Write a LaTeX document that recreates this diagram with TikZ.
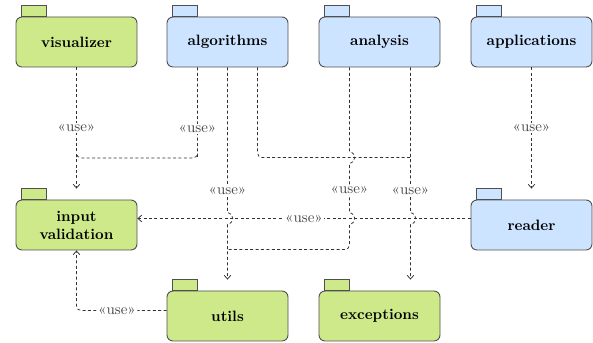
\documentclass[tikz,border=0pt]{standalone}
\usepackage{fontspec}
\usetikzlibrary{arrows.meta,calc}
\definecolor{pkggreen}{RGB}{205,233,138}
\definecolor{pkgblue}{RGB}{204,228,255}
\definecolor{pkgborder}{RGB}{80,80,80}
\definecolor{linecol}{RGB}{50,50,50}
\tikzset{
  pkg/.style={draw=pkgborder, line width=0.6pt, rounded corners=4pt, minimum width=80.67pt, minimum height=33.33pt, font=\bfseries, align=center, inner sep=2pt},
  pkgtab/.style={draw=pkgborder, line width=0.6pt},
  dep/.style={draw=linecol, line width=0.5pt, dash pattern=on 2pt off 1.6pt, -{Straight Barb[length=2.5pt,width=4.5pt]}},
  depnt/.style={draw=linecol, line width=0.5pt, dash pattern=on 2pt off 1.6pt},
  lbl/.style={fill=white, text=black!72, inner sep=1pt, font=\normalsize},
}
\begin{document}
\begin{tikzpicture}[x=0.6667pt, y=-0.6667pt]
\useasboundingbox (0,0) rectangle (593,343);
% packages
\node[pkg, fill=pkggreen] (viz) at (76.5,42) {visualizer};
\node[pkg, fill=pkgblue] (alg) at (227.5,42) {algorithms};
\node[pkg, fill=pkgblue] (ana) at (379.5,42) {analysis};
\node[pkg, fill=pkgblue] (app) at (531.5,42) {applications};
\node[pkg, fill=pkggreen] (iv) at (76.5,225) {input\\validation};
\node[pkg, fill=pkgblue] (rdr) at (531.5,225) {reader};
\node[pkg, fill=pkggreen] (utils) at (227.5,316) {utils};
\node[pkg, fill=pkggreen] (exc) at (379.5,316) {exceptions};
% tabs
\foreach \n/\c in {viz/pkggreen, alg/pkgblue, ana/pkgblue, app/pkgblue, iv/pkggreen, rdr/pkgblue, utils/pkggreen, exc/pkggreen}
  \draw[pkgtab, fill=\c] ($(\n.north west)+(6,0)$) rectangle ++(24.5,-11);
% junctions
\coordinate (j1) at (76.5,157.5);
\coordinate (j2) at (410.5,157.5);
\coordinate (j3) at (227.5,249.5);
% dependencies
\draw[dep] (viz.south) -- node[lbl]{«use»} ($(iv.north)+(0,-11)$);
\draw[depnt] ($(alg.south)+(-30,0)$) -- node[lbl,pos=0.68]{«use»} ++(0,90.5) [rounded corners=3pt] -- ++(0,0) -| (j1);
\draw[depnt, rounded corners=3pt] ($(alg.south)+(30,0)$) |- (j2);
\draw[dep] (alg.south) -- node[lbl,pos=0.85]{«use»} (227.5,212.5)
  .. controls (234.5,214.5) and (234.5,222.5) .. (227.5,224.5) -- ($(utils.north)+(0,-11)$);
\draw[dep] ($(ana.south)+(31,0)$) -- node[lbl,pos=0.85]{«use»} (410.5,212.5)
  .. controls (417.5,214.5) and (417.5,222.5) .. (410.5,224.5) -- ($(exc.north)+(31,-11)$);
\draw[depnt] ($(ana.south)+(-30,0)$) -- (349.5,151.5)
  .. controls (356.5,153.5) and (356.5,161.5) .. (349.5,163.5) -- node[lbl,pos=0.54]{«use»} (349.5,212.5)
  .. controls (356.5,214.5) and (356.5,222.5) .. (349.5,224.5) [rounded corners=3pt] -- (349.5,249.5) -- (j3);
\draw[dep] ($(rdr.west)+(0,-6.5)$) -- node[lbl]{«use»} ($(iv.east)+(0,-6.5)$);
\draw[dep] (app.south) -- node[lbl]{«use»} ($(rdr.north)+(0,-11)$);
\draw[dep, rounded corners=3pt] ($(utils.west)+(0,-5.5)$) -- node[lbl,pos=0.55]{«use»} (76.5,310.5) -- (iv.south);
\end{tikzpicture}
\end{document}
